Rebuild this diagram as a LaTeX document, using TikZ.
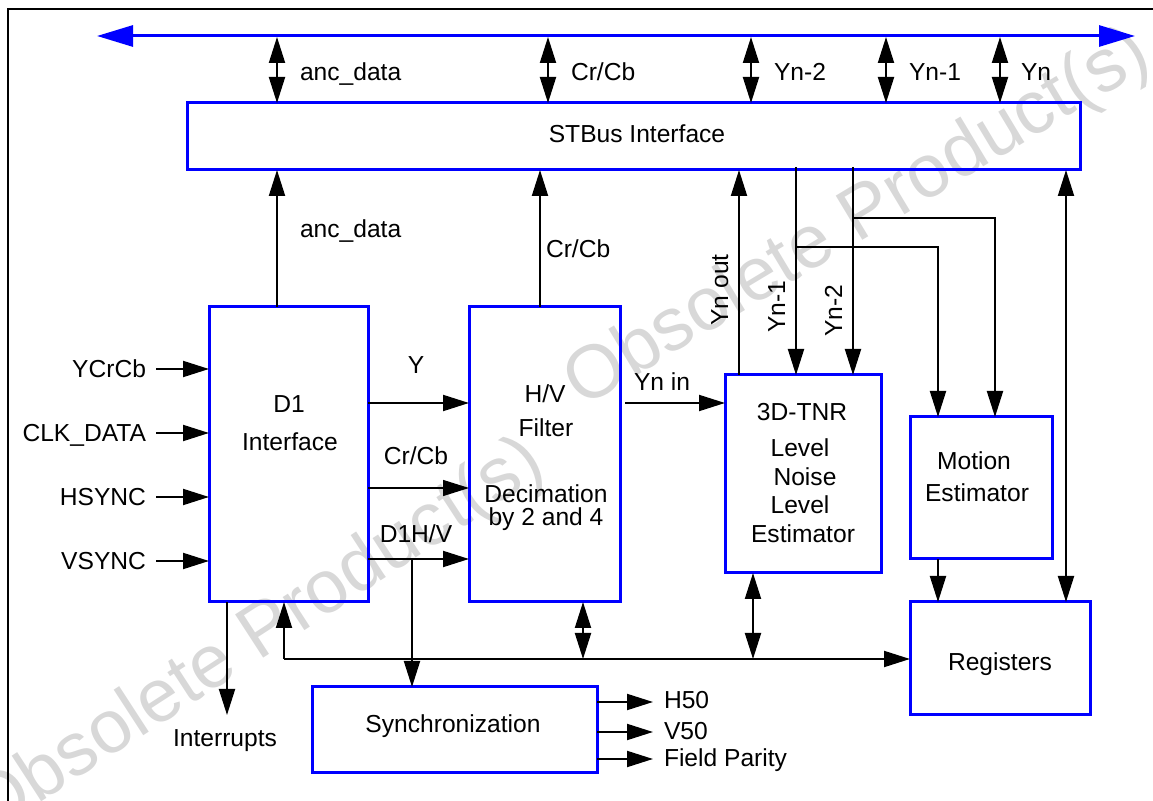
\documentclass[tikz,border=0pt]{standalone}
\usepackage{fontspec}
\setmainfont{Liberation Sans}
\usetikzlibrary{arrows.meta}
\definecolor{boxblue}{RGB}{0,0,255}
\definecolor{wmgray}{RGB}{216,216,216}
\begin{document}
\begin{tikzpicture}[x=0.5pt,y=-0.5pt,
  box/.style={draw=boxblue, line width=1.5pt, anchor=north west, inner sep=0pt, outer sep=0pt},
  lbl/.style={inner sep=0pt, outer sep=0pt, font=\fontsize{12.3}{15}\selectfont},
  wmark/.style={inner sep=0pt, text=wmgray, font=\fontsize{37.5}{40}\selectfont},
  wire/.style={line width=1pt},
  tip/.tip={Triangle[length=13pt,width=8pt]},
  arr/.style={wire, -tip},
  darr/.style={wire, tip-tip},
  busline/.style={draw=boxblue, line width=1.5pt, {Triangle[length=18pt,width=10.5pt]}-{Triangle[length=18pt,width=10.5pt]}}
]
\useasboundingbox (0,0) rectangle (1153,801);
\clip (0,0) rectangle (1153,801);

% watermark
\node[wmark, rotate=33] (wm1) at (258,638) {Obsolete Product(s)};
\node[wmark, rotate=31] (wm2) at (858,220) {Obsolete Product(s)};

% frame
\coordinate (frA) at (8,830);
\coordinate (frB) at (8,9);
\coordinate (frC) at (1180,9);
\draw[line width=1.2pt] (frA) -- (frB) -- (frC);

% boxes
\node[box, minimum width=446.5pt, minimum height=33.5pt] (stbus) at (187,103) {};
\node[box, minimum width=79.5pt, minimum height=147.5pt] (d1) at (209,307) {};
\node[box, minimum width=75.5pt, minimum height=147.5pt] (hv) at (469,307) {};
\node[box, minimum width=78pt, minimum height=99pt] (tnr) at (725,375) {};
\node[box, minimum width=71pt, minimum height=71pt] (me) at (910,417) {};
\node[box, minimum width=90pt, minimum height=56.5pt] (reg) at (910,602) {};
\node[box, minimum width=142.5pt, minimum height=43pt] (sync) at (312,687) {};

% box texts
\node[lbl, anchor=base] (tstbus) at (637,143) {STBus Interface};
\node[lbl, anchor=base] (td1a) at (289,413) {D1};
\node[lbl, anchor=base] (td1b) at (290,451) {Interface};
\node[lbl, anchor=base] (thva) at (545,403) {H/V};
\node[lbl, anchor=base] (thvb) at (546,437) {Filter};
\node[lbl, anchor=base] (thvc) at (546,503) {Decimation};
\node[lbl, anchor=base] (thvd) at (546,526) {by 2 and 4};
\node[lbl, anchor=base] (ttnra) at (802,421) {3D-TNR};
\node[lbl, anchor=base] (ttnrb) at (800,457) {Level};
\node[lbl, anchor=base] (ttnrc) at (805,486) {Noise};
\node[lbl, anchor=base] (ttnrd) at (800,514) {Level};
\node[lbl, anchor=base] (ttnre) at (803,543) {Estimator};
\node[lbl, anchor=base] (tmea) at (974,470) {Motion};
\node[lbl, anchor=base] (tmeb) at (977,502) {Estimator};
\node[lbl, anchor=base] (treg) at (1000,671) {Registers};
\node[lbl, anchor=base] (tsync) at (453,733) {Synchronization};

% top bus
\coordinate (busL) at (97,36);
\coordinate (busR) at (1135,36);
\draw[busline] (busL) -- (busR);

\coordinate (b1) at (277,37);
\coordinate (b2) at (548,37);
\coordinate (b3) at (751,37);
\coordinate (b4) at (886,37);
\coordinate (b5) at (1000,37);
\draw[darr] (b1) -- (b1 |- stbus.north);
\draw[darr] (b2) -- (b2 |- stbus.north);
\draw[darr] (b3) -- (b3 |- stbus.north);
\draw[darr] (b4) -- (b4 |- stbus.north);
\draw[darr] (b5) -- (b5 |- stbus.north);
\node[lbl, anchor=base west] (lb1) at (300,81) {anc\_data};
\node[lbl, anchor=base west] (lb2) at (571,81) {Cr/Cb};
\node[lbl, anchor=base west] (lb3) at (774,81) {Yn-2};
\node[lbl, anchor=base west] (lb4) at (909,81) {Yn-1};
\node[lbl, anchor=base west] (lb5) at (1021,81) {Yn};

% up to STBus
\draw[arr] (b1 |- d1.north) -- (b1 |- stbus.south);
\node[lbl, anchor=base west] (lanc) at (300,238) {anc\_data};
\coordinate (hvup) at (540,307);
\draw[arr] (hvup) -- (hvup |- stbus.south);
\node[lbl, anchor=base west] (lcrcb) at (546,258) {Cr/Cb};

% Yn out / Yn-1 / Yn-2
\coordinate (ynout) at (739,375);
\draw[arr] (ynout) -- (ynout |- stbus.south);
\node[lbl, anchor=base, rotate=90] (lynout) at (728,290) {Yn out};
\coordinate (yn1) at (796,167);
\coordinate (yn2) at (853,167);
\draw[arr] (yn1) -- (yn1 |- tnr.north);
\draw[arr] (yn2) -- (yn2 |- tnr.north);
\node[lbl, anchor=base, rotate=90] (lyn1) at (785,307) {Yn-1};
\node[lbl, anchor=base, rotate=90] (lyn2) at (842,311) {Yn-2};
\coordinate (j1) at (796,247);
\coordinate (m1) at (938,247);
\coordinate (j2) at (853,218);
\coordinate (m2) at (995,218);
\draw[arr] (j1) -- (m1) -- (m1 |- me.north);
\draw[arr] (j2) -- (m2) -- (m2 |- me.north);

% STBus <-> Registers
\coordinate (rg) at (1066,170);
\draw[darr] (rg) -- (rg |- reg.north);
\draw[arr] (m1 |- me.south) -- (m1 |- reg.north);

% inputs
\coordinate (in1) at (156,369);
\coordinate (in2) at (156,433);
\coordinate (in3) at (156,497);
\coordinate (in4) at (156,561);
\draw[arr] (in1) -- (in1 -| d1.west);
\draw[arr] (in2) -- (in2 -| d1.west);
\draw[arr] (in3) -- (in3 -| d1.west);
\draw[arr] (in4) -- (in4 -| d1.west);
\node[lbl, anchor=base east] (lin1) at (146,378) {YCrCb};
\node[lbl, anchor=base east] (lin2) at (146,442) {CLK\_DATA};
\node[lbl, anchor=base east] (lin3) at (146,506) {HSYNC};
\node[lbl, anchor=base east] (lin4) at (146,570) {VSYNC};

% D1 -> H/V
\coordinate (y1) at (368,403);
\coordinate (y2) at (368,488);
\coordinate (y3) at (368,559);
\draw[arr] (y1) -- (y1 -| hv.west);
\draw[arr, line width=0.6pt] (y2) -- (y2 -| hv.west);
\draw[arr] (y3) -- (y3 -| hv.west);
\node[lbl, anchor=base] (ly1) at (416,374) {Y};
\node[lbl, anchor=base] (ly2) at (416,465) {Cr/Cb};
\node[lbl, anchor=base] (ly3) at (416,543) {D1H/V};
\coordinate (j3) at (412,559);
\draw[arr] (j3) -- (j3 |- sync.north);

% Yn in
\coordinate (ynin) at (625,403);
\draw[arr] (ynin) -- (ynin -| tnr.west);
\node[lbl, anchor=base west] (lynin) at (634,391) {Yn in};

% interrupts
\coordinate (intA) at (227,602);
\coordinate (intB) at (227,715);
\draw[arr] (intA) -- (intB);
\node[lbl, anchor=base] (lint) at (225,747) {Interrupts};

% bottom bus
\coordinate (bl) at (284,659);
\draw[arr] (bl) -- (bl -| reg.west);
\draw[arr] (bl) -- (bl |- d1.south);
\coordinate (bh) at (583,659);
\draw[darr] (bh |- hv.south) -- (bh);
\coordinate (bt) at (753,659);
\draw[darr] (bt |- tnr.south) -- (bt);

% sync outputs
\coordinate (o1) at (653,702);
\coordinate (o2) at (653,732);
\coordinate (o3) at (653,759);
\draw[arr] (o1 -| sync.east) -- (o1);
\draw[arr] (o2 -| sync.east) -- (o2);
\draw[arr] (o3 -| sync.east) -- (o3);
\node[lbl, anchor=base west] (lo1) at (664,709) {H50};
\node[lbl, anchor=base west] (lo2) at (664,740) {V50};
\node[lbl, anchor=base west] (lo3) at (664,767) {Field Parity};
\end{tikzpicture}
\end{document}
